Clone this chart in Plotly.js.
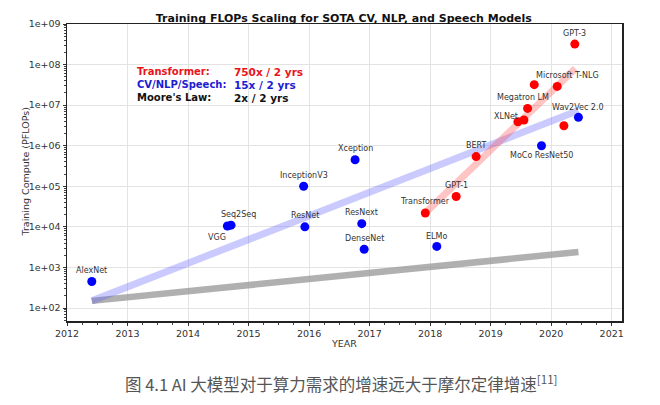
<!DOCTYPE html>
<html>
<head>
<meta charset="utf-8">
<script src="https://cdn.plot.ly/plotly-3.0.1.min.js"></script>
<style>html,body{margin:0;padding:0;background:#fff;}#chart{width:660px;height:405px;}</style>
</head>
<body>
<div id="chart"></div>
<script>
// CV / NLP / Speech models (blue)
const cvNames = ['AlexNet','VGG','Seq2Seq','InceptionV3','ResNet','Xception','ResNext','DenseNet','ELMo','MoCo ResNet50','Wav2Vec 2.0'];
const cvYears = [2012.41, 2014.65, 2014.71, 2015.91, 2015.93, 2016.76, 2016.87, 2016.91, 2018.11, 2019.84, 2020.45];
const cvFlops = [450, 1.05e4, 1.1e4, 1.0e5, 1.0e4, 4.5e5, 1.2e4, 2.8e3, 3.3e3, 1.0e6, 5.0e6];

// Transformer models (red)
const tfNames = ['Transformer','GPT-1','BERT','XLNet','','Megatron LM','','Microsoft T-NLG','','GPT-3'];
const tfYears = [2017.92, 2018.43, 2018.76, 2019.45, 2019.55, 2019.61, 2019.72, 2020.10, 2020.21, 2020.39];
const tfFlops = [2.2e4, 5.6e4, 5.4e5, 3.9e6, 4.3e6, 8.3e6, 3.2e7, 2.9e7, 3.1e6, 3.2e8];

// Trend lines (endpoints)
const mooreYears = [2012.41, 2020.45];
const mooreFlops = [150, 2400];
const cvTrendYears = [2012.41, 2020.45];
const cvTrendFlops = [150, 7.4e6];
const tfTrendYears = [2017.92, 2020.40];
const tfTrendFlops = [2.2e4, 8.0e7];

// Tick labels
const yTickVals = [1e2,1e3,1e4,1e5,1e6,1e7,1e8,1e9];
const yTickText = ['1e+02','1e+03','1e+04','1e+05','1e+06','1e+07','1e+08','1e+09'];
const xTickVals = [2012,2013,2014,2015,2016,2017,2018,2019,2020,2021];

// label offsets in pixels (style/position, kept apart from data)
const labelOffsets = {
  'AlexNet':[0,-11], 'VGG':[-10,11], 'Seq2Seq':[7,-11], 'InceptionV3':[0,-11], 'ResNet':[0,-11],
  'Xception':[0,-11], 'ResNext':[0,-11], 'DenseNet':[0,-11], 'ELMo':[0,-10], 'MoCo ResNet50':[0,10],
  'Wav2Vec 2.0':[0,-10], 'Transformer':[0,-11], 'GPT-1':[0,-11], 'BERT':[0,-11], 'XLNet':[-12,-5],
  'Megatron LM':[-5,-11], 'Microsoft T-NLG':[10,-11], 'GPT-3':[0,-11]
};

const font = 'DejaVu Sans, sans-serif';
const traces = [
  {x: mooreYears, y: mooreFlops, mode:'lines', line:{color:'rgba(150,150,150,0.75)', width:6.5}, hoverinfo:'skip', showlegend:false},
  {x: cvTrendYears, y: cvTrendFlops, mode:'lines', line:{color:'rgba(90,90,255,0.32)', width:7}, hoverinfo:'skip', showlegend:false},
  {x: tfTrendYears, y: tfTrendFlops, mode:'lines', line:{color:'rgba(255,60,60,0.3)', width:7}, hoverinfo:'skip', showlegend:false},
  {x: cvYears, y: cvFlops, mode:'markers', marker:{color:'#0000ff', size:9}, showlegend:false},
  {x: tfYears, y: tfFlops, mode:'markers', marker:{color:'#ff0000', size:9}, showlegend:false}
];

const annotations = [];
function addLabels(names, xs, ys){
  names.forEach((n,i)=>{
    if(!n) return;
    const off = labelOffsets[n] || [0,-11];
    annotations.push({x: xs[i], y: Math.log10(ys[i]), xref:'x', yref:'y', text:n, showarrow:false,
      xshift: off[0], yshift: -off[1], font:{family:font, size:8, color:'#333'}});
  });
}
addLabels(cvNames, cvYears, cvFlops);
addLabels(tfNames, tfYears, tfFlops);

const boxRows = [
  ['Transformer:', '750x / 2 yrs', '#e8141c'],
  ['CV/NLP/Speech:', '15x / 2 yrs', '#1d1dd0'],
  ["Moore's Law:", '2x / 2 yrs', '#111']
];
const boxY = [71.7, 84.5, 97.7];
boxRows.forEach((r,i)=>{
  const yy = (321 - boxY[i]) / 297;
  annotations.push({xref:'paper', yref:'paper', x:(135-67)/555, y:yy, xanchor:'left', yanchor:'middle', text:'<b>'+r[0]+'</b>', showarrow:false, font:{family:font, size:10, color:r[2]}});
  annotations.push({xref:'paper', yref:'paper', x:(232-67)/555, y:yy, xanchor:'left', yanchor:'middle', text:'<b>'+r[1]+'</b>', showarrow:false, font:{family:font, size:10.5, color:r[2]}});
});

// y-axis title placed as an annotation to sit close to tick labels
annotations.push({xref:'paper', yref:'paper', x:(25-67)/555, y:0.5, xanchor:'center', yanchor:'middle', textangle:-90, showarrow:false,
  text:'Training Compute (PFLOPs)', font:{family:font, size:9.5, color:'#333'}});

annotations.push({xref:'paper', yref:'paper', x:(341-67)/555, y:(321-383)/297, xanchor:'center', yanchor:'middle', showarrow:false,
  text:'图 4.1 AI 大模型对于算力需求的增速远大于摩尔定律增速<sup>[11]</sup>',
  font:{family:'Noto Sans CJK SC, sans-serif', size:16.5, color:'#555'}});

const layout = {
  width:660, height:405,
  margin:{l:67, r:38, t:24, b:84},
  paper_bgcolor:'#fff', plot_bgcolor:'#fff',
  title:{text:'<b>Training FLOPs Scaling for SOTA CV, NLP, and Speech Models</b>', x:0.521, xanchor:'center', y:0.955, yanchor:'middle', font:{family:font, size:11, color:'#111'}},
  xaxis:{range:[2012, 2021.17], tickvals:xTickVals, ticks:'outside', ticklen:3, tickcolor:'#333',
    showline:true, linecolor:'#222', linewidth:1.5, mirror:true, showgrid:true, gridcolor:'#e3e3e3', gridwidth:1,
    zeroline:false, tickfont:{family:font, size:9.5, color:'#333'},
    minor:{dtick:0.25, ticks:'outside', ticklen:2, tickcolor:'#444', showgrid:false},
    title:{text:'YEAR', font:{family:font, size:9.5, color:'#333'}, standoff:2}},
  yaxis:{type:'log', range:[1.68, 9], tickvals:yTickVals, ticktext:yTickText, ticks:'outside', ticklen:3, tickcolor:'#333',
    showline:true, linecolor:'#222', linewidth:1.5, mirror:true, showgrid:true, gridcolor:'#e3e3e3', gridwidth:1,
    zeroline:false, tickfont:{family:font, size:9.5, color:'#333'},
    minor:{dtick:'D1', ticks:'outside', ticklen:2, tickcolor:'#444', showgrid:false}},
  annotations: annotations,
  showlegend:false
};

Plotly.newPlot('chart', traces, layout, {displayModeBar:false, staticPlot:true});
</script>
</body>
</html>
